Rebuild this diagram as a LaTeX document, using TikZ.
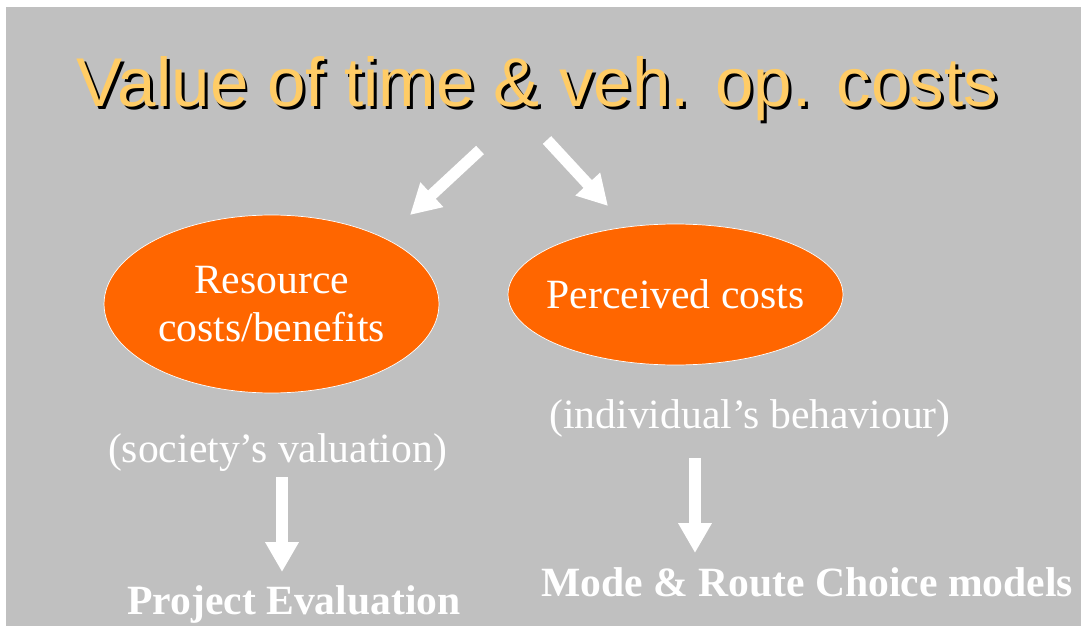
\documentclass[tikz,border=0pt]{standalone}
\usepackage{fontspec}
\setmainfont{Liberation Serif}
\newfontfamily\headfont{Liberation Sans}
\usepackage{color}
\definecolor{slidegray}{RGB}{192,192,192}
\definecolor{myorange}{RGB}{255,102,0}
\definecolor{mygold}{RGB}{255,204,102}
\usepackage{tikz}
\usetikzlibrary{arrows.meta,shapes.geometric,positioning}

% heading text with a dropped black shadow behind it
\newcommand{\shadowed}[1]{%
  \rlap{\kern1.7pt\raisebox{-1.7pt}{\color{black}#1}}{\color{mygold}#1}}

\begin{document}
\begin{tikzpicture}[
  x=0.02cm,
  y=-0.02cm,
  headtext/.style={
    anchor=base,
    inner sep=0pt,
    font=\headfont\fontsize{39.3}{46}\selectfont
    },
  myellipse/.style={
    draw=white,
    fill=myorange,
    ellipse,
    inner sep=0pt,
    text=white,
    align=center,
    minimum width=6.7cm,
    font=\fontsize{23.7}{27.8}\selectfont
    },
  note/.style={
    anchor=base,
    inner sep=0pt,
    text=white,
    font=\fontsize{23.7}{28}\selectfont
    },
  result/.style={
    note,
    font=\bfseries\fontsize{23.7}{28}\selectfont
    },
  bigarrow/.style={
    white,
    line width=6.5pt,
    -{Triangle[width=18pt,length=17pt]}
    }
]

\useasboundingbox (0,0) rectangle (1081,628);
\fill[slidegray] (6,7) rectangle (1081,626);

% heading
\node[headtext] (title) at (537.5,107) {\shadowed{Value of time \& veh. op. costs}};

% the two views of cost
\node[myellipse, minimum height=3.56cm] (resource) at (271.5,304) {Resource\\costs/benefits};
\node[myellipse, minimum height=2.82cm, inner xsep=-8pt] (perceived) at (675.5,294.5) {Perceived costs};

\node[note] (society) at (277.5,462) {(society’s valuation)};
\node[note] (individual) at (750,428) {(individual’s behaviour)};

\node[result] (project) at (294,614) {Project Evaluation};
\node[result] (choice) at (807,596) {Mode \& Route Choice models};

% block arrows
\coordinate (leftfrom) at (480,150);
\coordinate (leftto) at (410,215);
\coordinate (rightfrom) at (547,140);
\coordinate (rightto) at (608,206);
\coordinate (projfrom) at (282,477);
\coordinate (projto) at (282,572);
\coordinate (choicefrom) at (695,458);
\coordinate (choiceto) at (695,553);

\draw[bigarrow] (leftfrom) -- (leftto);
\draw[bigarrow] (rightfrom) -- (rightto);
\draw[bigarrow] (projfrom) -- (projto);
\draw[bigarrow] (choicefrom) -- (choiceto);

\end{tikzpicture}
\end{document}
